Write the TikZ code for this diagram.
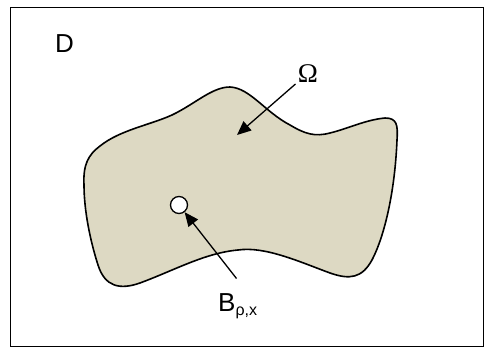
\documentclass[tikz,border=0pt]{standalone}
\usepackage{fontspec}
\setmainfont{Liberation Sans}
\newfontfamily\serifgr{Liberation Serif}
\usetikzlibrary{arrows.meta}
\definecolor{blobfill}{RGB}{221,217,195}
\tikzset{
  frame/.style={draw=black, line width=1pt},
  blob/.style={draw=black, line width=1.6pt, fill=blobfill},
  lbl/.style={inner sep=0pt, font=\fontsize{26}{30}\selectfont},
  ptr/.style={draw=black, line width=1.3pt, -{Triangle[length=14pt,width=12pt]}},
  ball/.style={circle, draw=black, line width=1.3pt, fill=white, minimum size=17pt, inner sep=0pt}
}
\begin{document}
\begin{tikzpicture}[x=1pt,y=-1pt]
\useasboundingbox (0,0) rectangle (484,347);
\draw[frame] (10,7.5) rectangle (483.5,346);
\draw[blob] (84,185)
  .. controls (83,165) and (88,155) .. (100,146)
  .. controls (120,130) and (150,125) .. (172,115)
  .. controls (195,104) and (212,87) .. (230,87)
  .. controls (250,88) and (265,112) .. (290,125)
  .. controls (305,134) and (315,137) .. (330,133)
  .. controls (350,128) and (365,120) .. (385,118)
  .. controls (397,118) and (398,125) .. (397,140)
  .. controls (395,190) and (385,235) .. (372,260)
  .. controls (362,278) and (350,280) .. (330,273)
  .. controls (300,262) and (265,246) .. (238,250)
  .. controls (205,253) and (175,270) .. (140,283)
  .. controls (120,290) and (105,287) .. (98,265)
  .. controls (90,240) and (84,210) .. (84,185) -- cycle;
\node[lbl] (D) at (64.5,43.5) {D};
\node[lbl, font=\fontsize{27}{30}\selectfont\serifgr] (om) at (308,74) {Ω};
\node[ball] (bx) at (179,205) {};
\node[lbl, anchor=base west] (B) at (218,311) {B\raisebox{-4pt}{\fontsize{16}{19}\selectfont ρ,x}};
\coordinate (omstart) at (295.5,84);
\coordinate (omtip) at (237,135);
\coordinate (bstart) at (236.5,278.5);
\draw[ptr] (omstart) -- (omtip);
\draw[ptr] (bstart) -- (bx);
\end{tikzpicture}
\end{document}
